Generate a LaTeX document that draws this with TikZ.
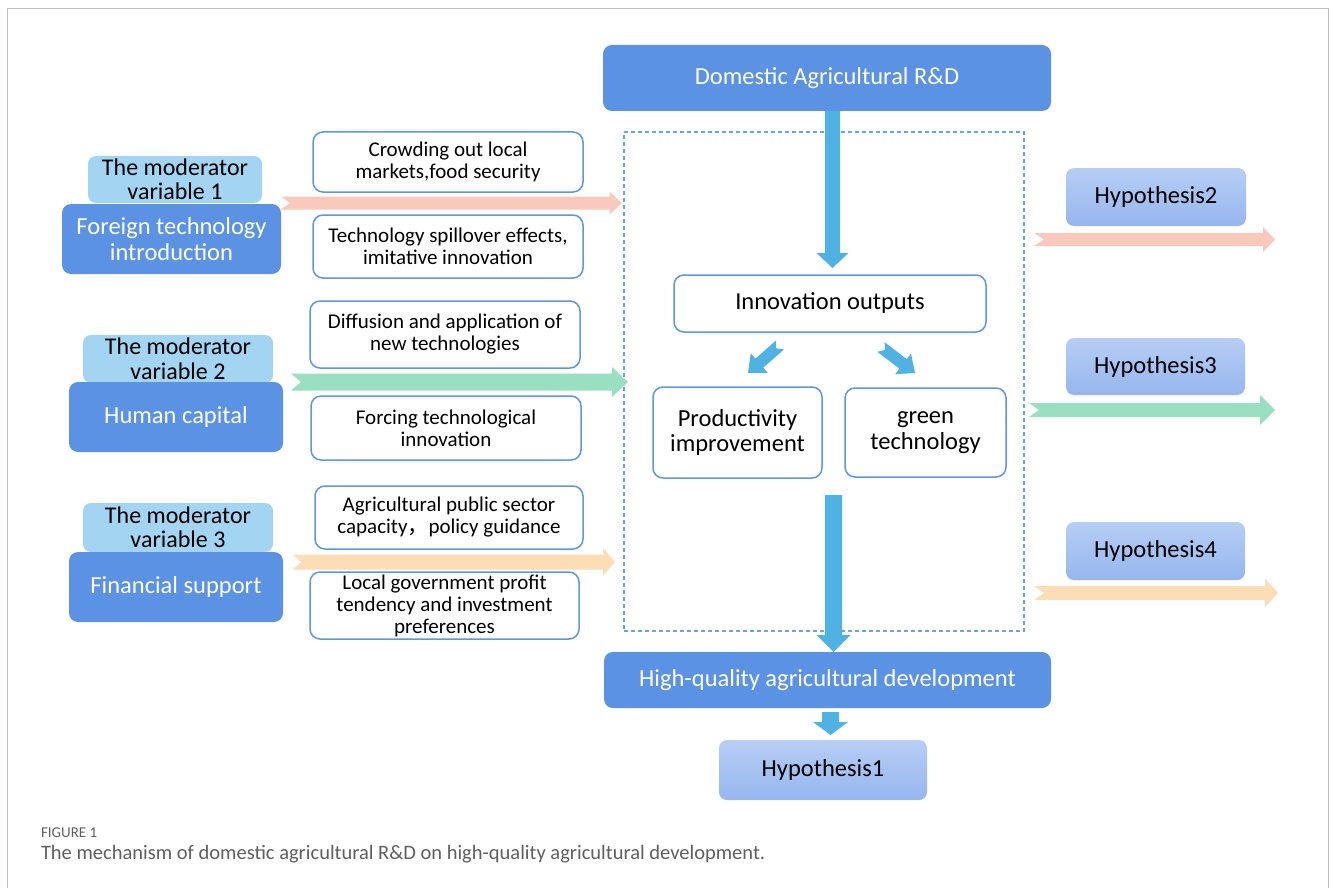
\documentclass[tikz,border=0pt]{standalone}
\usepackage{fontspec}
\setmainfont{Carlito}
\newfontfamily\cjk{Noto Sans CJK SC}
\usetikzlibrary{calc}
\definecolor{darkb}{RGB}{91,146,227}
\definecolor{modb}{RGB}{163,213,242}
\definecolor{hypt}{RGB}{183,206,245}
\definecolor{hypb}{RGB}{150,182,238}
\definecolor{bordb}{RGB}{95,150,228}
\definecolor{arrb}{RGB}{80,178,227}
\definecolor{pinka}{RGB}{249,201,190}
\definecolor{greena}{RGB}{154,223,194}
\definecolor{peacha}{RGB}{253,221,181}
\definecolor{dashb}{RGB}{110,160,230}
\definecolor{framegray}{RGB}{190,190,190}
\definecolor{capgray}{RGB}{95,95,95}
% #1 tail, #2 tip, #3 colour, #4 shaft half width, #5 head half width, #6 head length, #7 notch depth
\newcommand\blockarr[7]{%
  \coordinate (tmpc) at ($(#2)!#6!(#1)$);
  \fill[#3] ($(#1)!#4!90:(#2)$) -- ($(tmpc)!#4!90:(#2)$) -- ($(tmpc)!#5!90:(#2)$) -- (#2)
     -- ($(tmpc)!#5!-90:(#2)$) -- ($(tmpc)!#4!-90:(#2)$) -- ($(#1)!#4!-90:(#2)$)
     -- ($(#1)!#7!(#2)$) -- cycle;}
\begin{document}
\begin{tikzpicture}[x=1pt,y=-1pt,
  every node/.style={inner sep=0pt, outer sep=0pt, align=center},
  darkbox/.style={fill=darkb, rounded corners=9pt, text=white, font=\fontsize{24.5}{25.5}\selectfont},
  modbox/.style={fill=modb, rounded corners=8pt, text=black, font=\fontsize{24}{24.5}\selectfont},
  whitebox/.style={fill=white, draw=bordb, line width=1.5pt, rounded corners=10pt, text=black, font=\fontsize{21}{22}\selectfont},
  innerbox/.style={whitebox, font=\fontsize{24.5}{25.5}\selectfont},
  hypbox/.style={top color=hypt, bottom color=hypb, rounded corners=8pt, text=black, font=\fontsize{24.5}{25.5}\selectfont},
]
\useasboundingbox (0,0) rectangle (1333,888);
\fill[white] (0,0) rectangle (1333,888);
\draw[framegray, line width=1pt] (7.5,900) -- (7.5,9) -- (1328.5,9) -- (1328.5,900);

% dashed frame
\node[draw=dashb, dash pattern=on 4pt off 3pt, line width=1.2pt, minimum width=400pt, minimum height=499pt] (dbox) at (824,381.5) {};

% left column
\node[modbox, minimum width=174pt, minimum height=47pt] (m1) at (175,179.5) {The moderator\\variable 1};
\node[darkbox, minimum width=219pt, minimum height=70pt] (f1) at (171.5,239) {Foreign technology\\introduction};
\node[modbox, minimum width=190pt, minimum height=48pt] (m2) at (178,359) {The moderator\\variable 2};
\node[darkbox, minimum width=214pt, minimum height=70pt] (hc) at (176,417) {Human capital};
\node[modbox, minimum width=190pt, minimum height=49pt] (m3) at (178,527.5) {The moderator\\variable 3};
\node[darkbox, minimum width=214pt, minimum height=70pt] (fs) at (176,587) {Financial support};

% middle column
\node[whitebox, minimum width=270pt, minimum height=60pt] (crowd) at (448,162) {Crowding out local\\markets,food security};
\node[whitebox, minimum width=270pt, minimum height=63pt] (spill) at (448,246.5) {Technology spillover effects,\\imitative innovation};
\node[whitebox, minimum width=270pt, minimum height=67pt] (diff) at (445,334.5) {Diffusion and application of\\new technologies};
\node[whitebox, minimum width=270pt, minimum height=64pt] (force) at (446,428) {Forcing technological\\innovation};
\node[whitebox, minimum width=268pt, minimum height=63pt] (agri) at (449,517.5) {Agricultural public sector\\capacity{\cjk ，}policy guidance};
\node[whitebox, minimum width=269pt, minimum height=67pt] (local) at (444.5,605.5) {Local government profit\\tendency and investment\\preferences};

% centre
\node[darkbox, minimum width=448pt, minimum height=66pt] (rd) at (827,78) {Domestic Agricultural R\&D};
\node[innerbox, minimum width=312pt, minimum height=57pt] (io) at (830,303.5) {Innovation outputs};
\node[innerbox, minimum width=169pt, minimum height=91pt] (prod) at (737.5,432.5) {Productivity\\improvement};
\node[innerbox, minimum width=161pt, minimum height=89pt] (green) at (925.5,432.5) {green\\technology};
\node[darkbox, minimum width=447pt, minimum height=56pt] (hq) at (827.5,680) {High-quality agricultural development};
\node[hypbox, minimum width=208pt, minimum height=60pt] (h1) at (823,770) {Hypothesis1};

% right column
\node[hypbox, minimum width=180pt, minimum height=58pt] (h2) at (1156,197) {Hypothesis2};
\node[hypbox, minimum width=179pt, minimum height=57pt] (h3) at (1155.5,366.5) {Hypothesis3};
\node[hypbox, minimum width=179pt, minimum height=58pt] (h4) at (1155.5,551) {Hypothesis4};

% arrow end points
\coordinate (pLa) at (281,203);   \coordinate (pLb) at (622,203);
\coordinate (gLa) at (291,382);   \coordinate (gLb) at (628,382);
\coordinate (oLa) at (292.5,562); \coordinate (oLb) at (615,562);
\coordinate (pRa) at (1034,239.5); \coordinate (pRb) at (1275,239.5);
\coordinate (gRa) at (1029,410);   \coordinate (gRb) at (1275,410);
\coordinate (oRa) at (1034,593);   \coordinate (oRb) at (1278,593);
\coordinate (b1a) at (832.5,111); \coordinate (b1b) at (832.5,268);
\coordinate (b2a) at (833.5,495); \coordinate (b2b) at (833.5,652);
\coordinate (b3a) at (830.5,712); \coordinate (b3b) at (830.5,735);
\coordinate (dLa) at (780,345); \coordinate (dLb) at (748,373);
\coordinate (dRa) at (881,347); \coordinate (dRb) at (915,373);

\blockarr{pLa}{pLb}{pinka}{6.5pt}{11.5pt}{12.5pt}{9pt}
\blockarr{gLa}{gLb}{greena}{8.5pt}{15pt}{16pt}{10pt}
\blockarr{oLa}{oLb}{peacha}{7.5pt}{14pt}{12pt}{9pt}
\blockarr{pRa}{pRb}{pinka}{6.5pt}{12.5pt}{12pt}{10pt}
\blockarr{gRa}{gRb}{greena}{7pt}{15pt}{15pt}{10pt}
\blockarr{oRa}{oRb}{peacha}{7pt}{14.5pt}{13pt}{10pt}
\blockarr{b1a}{b1b}{arrb}{7.5pt}{16pt}{15pt}{0pt}
\blockarr{b2a}{b2b}{arrb}{8.5pt}{17pt}{17pt}{0pt}
\blockarr{b3a}{b3b}{arrb}{8.5pt}{17.5pt}{13pt}{0pt}
\blockarr{dLa}{dLb}{arrb}{6pt}{13pt}{15pt}{5pt}
\blockarr{dRa}{dRb}{arrb}{6pt}{13pt}{15pt}{5pt}

% caption
\node[anchor=base west, text=capgray, font=\fontsize{15}{16}\selectfont] (figlab) at (41,837) {FIGURE 1};
\node[anchor=base west, text=capgray, font=\fontsize{20.5}{22}\selectfont] (cap) at (41,859) {The mechanism of domestic agricultural R\&D on high-quality agricultural development.};
\end{tikzpicture}
\end{document}
